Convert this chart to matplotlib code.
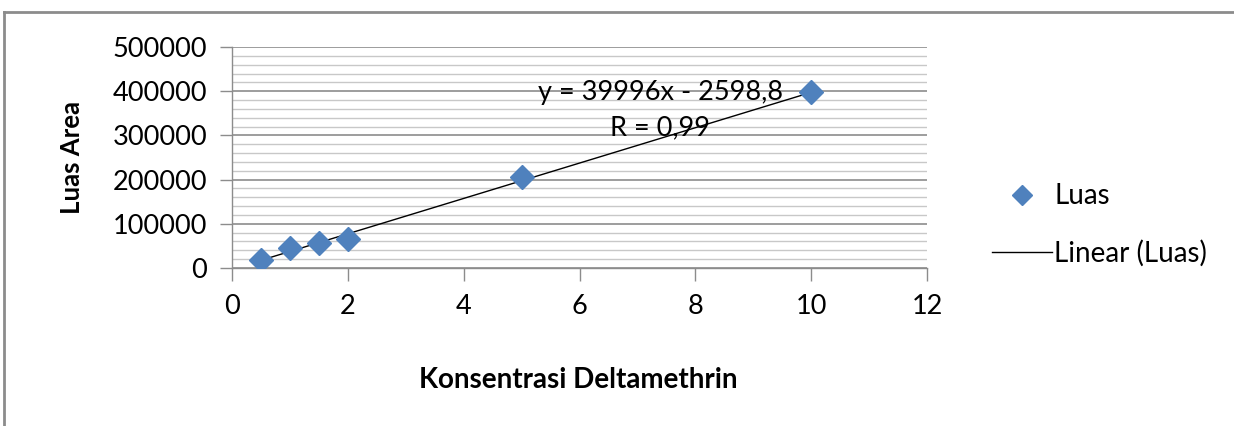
import matplotlib
matplotlib.use("Agg")
import matplotlib.pyplot as plt
from matplotlib.lines import Line2D
from matplotlib.ticker import MultipleLocator
import numpy as np

# Data
konsentrasi = [0.5, 1, 1.5, 2, 5, 10]
luas = [18000, 45000, 56000, 65000, 206000, 399000]
slope = 39996
intercept = -2598.8
eq_label = "y = 39996x - 2598,8"
r_label = "R = 0,99"
x_ticks = [0, 2, 4, 6, 8, 10, 12]
y_ticks = [0, 100000, 200000, 300000, 400000, 500000]

plt.rcParams['font.family'] = ['Lato', 'DejaVu Sans']

fig = plt.figure(figsize=(12.34, 4.26), dpi=100)
ax = fig.add_axes([232/1234, 1-268/426, (927-232)/1234, (268-47)/426])

ax.set_xlim(0, 12)
ax.set_ylim(0, 500000)
ax.set_xticks(x_ticks)
ax.set_yticks(y_ticks)
ax.yaxis.set_minor_locator(MultipleLocator(20000))
ax.set_xticklabels([str(v) for v in x_ticks])
ax.set_yticklabels([str(v) for v in y_ticks])

ax.grid(True, which='major', axis='y', color='#8c8c8c', linewidth=1.2)
ax.grid(True, which='minor', axis='y', color='#c8c8c8', linewidth=1.0)
ax.set_axisbelow(True)

for s in ['top', 'right']:
    ax.spines[s].set_visible(False)
for s in ['left', 'bottom']:
    ax.spines[s].set_color('#8c8c8c')
    ax.spines[s].set_linewidth(1.0)

ax.tick_params(axis='both', which='major', direction='out', length=9, width=1.0,
               color='#8c8c8c', labelsize=19.5, labelcolor='#000000', pad=9)
ax.tick_params(axis='x', which='major', pad=10)
ax.tick_params(axis='y', which='minor', length=0)

xs = np.array([min(konsentrasi), max(konsentrasi)])
trend, = ax.plot(xs, slope*xs + intercept, color='black', linewidth=1.0, zorder=3)
pts, = ax.plot(konsentrasi, luas, linestyle='none', marker='D', markersize=12.5,
               color='#4F81BD', zorder=4)

ax.text(7.39, 398000, eq_label, ha='center', va='center', fontsize=19.5, zorder=5)
ax.text(7.39, 317000, r_label, ha='center', va='center', fontsize=19.5, zorder=5)

ax.set_xlabel("Konsentrasi Deltamethrin", fontsize=20, fontweight='bold')
ax.xaxis.label.set_va('center')
ax.xaxis.set_label_coords((578-232)/695, (268-380)/221)
ax.set_ylabel("Luas Area", fontsize=18.5, fontweight='bold')
ax.yaxis.label.set_va('center')
ax.yaxis.set_label_coords((72-232)/695, 0.5)

leg = fig.legend([pts, trend], ["Luas", "Linear (Luas)"],
                 loc='center left', bbox_to_anchor=(992/1234, 1-225/426),
                 frameon=False, fontsize=20, handlelength=2.15, handletextpad=0.1,
                 labelspacing=1.1, borderpad=0, borderaxespad=0, markerscale=0.8)

# chart border
fig.add_artist(Line2D([4/1234, 1], [1-12/426, 1-12/426], color='#8c8c8c', linewidth=2))
fig.add_artist(Line2D([4/1234, 4/1234], [0, 1-12/426], color='#8c8c8c', linewidth=2))

fig.savefig("out.png", dpi=100, facecolor='white')
